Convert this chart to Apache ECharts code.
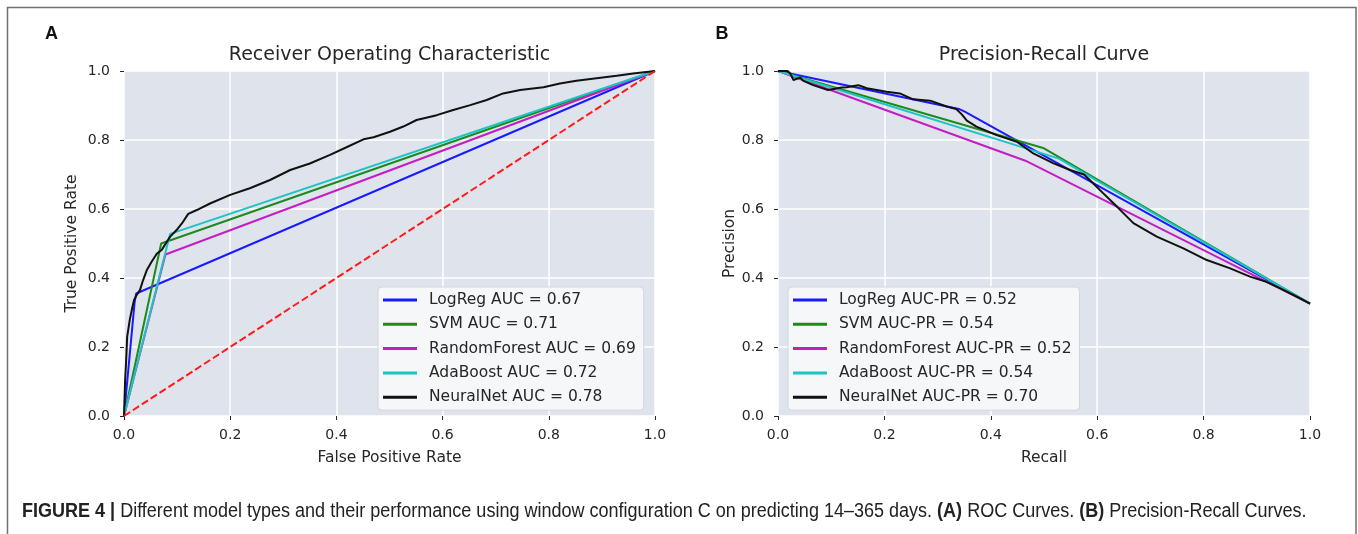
<!DOCTYPE html>
<html>
<head>
<meta charset="utf-8">
<script src="https://cdn.jsdelivr.net/npm/echarts@6/dist/echarts.min.js"></script>
<style>
html,body{margin:0;padding:0;background:#fff;}
#chart{width:1358px;height:534px;}
</style>
</head>
<body>
<div id="chart"></div>
<script>
// ---------- data ----------
const tickValues = [0, 0.2, 0.4, 0.6, 0.8, 1.0];

const rocNames = ['LogReg AUC = 0.67', 'SVM AUC = 0.71', 'RandomForest AUC = 0.69', 'AdaBoost AUC = 0.72', 'NeuralNet AUC = 0.78'];
const prNames = ['LogReg AUC-PR = 0.52', 'SVM AUC-PR = 0.54', 'RandomForest AUC-PR = 0.52', 'AdaBoost AUC-PR = 0.54', 'NeuralNet AUC-PR = 0.70'];
const modelColors = ['#1a1aff', '#1c8a1c', '#c21ec2', '#1ec4c4', '#111111'];

const rocLogReg = [[0, 0], [0.02, 0.33], [0.023, 0.355], [1, 1]];
const rocSVM = [[0, 0], [0.07, 0.50], [1, 1]];
const rocRF = [[0, 0], [0.078, 0.468], [1, 1]];
const rocAda = [[0, 0], [0.087, 0.528], [1, 1]];
const rocNN = [[0, 0], [0.002, 0.10], [0.004, 0.16], [0.006, 0.23], [0.011, 0.28], [0.016, 0.317], [0.019, 0.336],
  [0.024, 0.351], [0.03, 0.365], [0.036, 0.394], [0.043, 0.423], [0.052, 0.447], [0.062, 0.471], [0.071, 0.481],
  [0.077, 0.496], [0.087, 0.52], [0.099, 0.539], [0.109, 0.558], [0.121, 0.586], [0.137, 0.597], [0.162, 0.616],
  [0.2, 0.641], [0.237, 0.66], [0.275, 0.684], [0.313, 0.713], [0.35, 0.732], [0.388, 0.757], [0.419, 0.779],
  [0.451, 0.802], [0.47, 0.808], [0.501, 0.824], [0.526, 0.839], [0.551, 0.858], [0.589, 0.872], [0.62, 0.887],
  [0.652, 0.901], [0.683, 0.916], [0.714, 0.935], [0.746, 0.945], [0.79, 0.953], [0.821, 0.964], [0.852, 0.972],
  [0.89, 0.979], [0.928, 0.986], [0.959, 0.993], [1, 1]];
const rocChance = [[0, 0], [1, 1]];

const prLogReg = [[0, 1], [0.34, 0.89], [0.351, 0.882], [1, 0.326]];
const prSVM = [[0, 1], [0.5, 0.776], [1, 0.326]];
const prRF = [[0, 1], [0.465, 0.74], [1, 0.326]];
const prAda = [[0, 1], [0.528, 0.746], [1, 0.326]];
const prNN = [[0, 1], [0.018, 1.0], [0.023, 0.993], [0.029, 0.974], [0.042, 0.981], [0.047, 0.972], [0.066, 0.959],
  [0.094, 0.945], [0.12, 0.952], [0.129, 0.953], [0.151, 0.959], [0.167, 0.95], [0.204, 0.94], [0.229, 0.935],
  [0.254, 0.918], [0.286, 0.914], [0.317, 0.897], [0.335, 0.89], [0.345, 0.875], [0.355, 0.856], [0.373, 0.839],
  [0.411, 0.814], [0.449, 0.795], [0.48, 0.761], [0.517, 0.733], [0.549, 0.713], [0.575, 0.70], [0.586, 0.684],
  [0.611, 0.646], [0.637, 0.607], [0.668, 0.559], [0.712, 0.52], [0.762, 0.486], [0.806, 0.452], [0.85, 0.428],
  [0.887, 0.404], [0.918, 0.389], [0.944, 0.37], [0.97, 0.35], [1, 0.326]];

const rocData = [rocLogReg, rocSVM, rocRF, rocAda, rocNN];
const prData = [prLogReg, prSVM, prRF, prAda, prNN];

const titleROC = 'Receiver Operating Characteristic';
const titlePR = 'Precision-Recall Curve';
const captionText = '{b|FIGURE 4 |} Different model types and their performance using window configuration C on predicting 14\u2013365 days. {b|(A)} ROC Curves. {b|(B)} Precision-Recall Curves.';

// ---------- chart ----------
const FONT = '"DejaVu Sans", sans-serif';
const CAPFONT = '"Liberation Sans", Arial, sans-serif';
const TXT = '#262626';

function valueAxis(gridIndex, name, isY, nameGap) {
  return {
    type: 'value', gridIndex: gridIndex, min: 0, max: 1, interval: 0.2,
    name: name, nameLocation: 'middle', nameGap: nameGap,
    nameTextStyle: { fontFamily: FONT, fontSize: 15.5, color: TXT },
    axisLine: { show: false },
    axisTick: { show: true, length: 4, lineStyle: { color: TXT, width: 1 } },
    axisLabel: { fontFamily: FONT, fontSize: 14, color: TXT, margin: isY ? 14 : 12,
      formatter: v => v.toFixed(1) },
    splitLine: { show: true, lineStyle: { color: '#ffffff', width: 1.5 } }
  };
}

function legendCfg(names, left) {
  return {
    data: names, orient: 'vertical', left: left, top: 287,
    backgroundColor: '#f6f7f9', borderColor: '#d2d6dc', borderWidth: 1, borderRadius: 4,
    padding: [4, 8, 4, 5], itemGap: 6.3, itemWidth: 34, itemHeight: 3, icon: 'rect',
    textStyle: { fontFamily: FONT, fontSize: 15.5, color: TXT, lineHeight: 18, padding: [0, 0, 0, 7] },
    selectedMode: false
  };
}

const series = [];
rocData.forEach((d, i) => series.push({
  name: rocNames[i], type: 'line', xAxisIndex: 0, yAxisIndex: 0, data: d,
  symbol: 'none', color: modelColors[i], lineStyle: { width: 2, color: modelColors[i] }, silent: true
}));
series.push({
  name: 'chance', type: 'line', xAxisIndex: 0, yAxisIndex: 0, data: rocChance,
  symbol: 'none', color: '#ff1a1a', lineStyle: { width: 2, color: '#ff1a1a', type: [7.4, 3.2] }, silent: true
});
prData.forEach((d, i) => series.push({
  name: prNames[i], type: 'line', xAxisIndex: 1, yAxisIndex: 1, data: d,
  symbol: 'none', color: modelColors[i], lineStyle: { width: 2, color: modelColors[i] }, silent: true
}));

const chart = echarts.init(document.getElementById('chart'), null, { renderer: 'canvas' });
chart.setOption({
  animation: false,
  backgroundColor: '#ffffff',
  grid: [
    { left: 124, top: 71, width: 531, height: 345, show: true, backgroundColor: '#dfe3ec', borderWidth: 0 },
    { left: 778, top: 71, width: 532, height: 345, show: true, backgroundColor: '#dfe3ec', borderWidth: 0 }
  ],
  xAxis: [valueAxis(0, 'False Positive Rate', false, 34), valueAxis(1, 'Recall', false, 34)],
  yAxis: [valueAxis(0, 'True Positive Rate', true, 44), valueAxis(1, 'Precision', true, 40)],
  legend: [legendCfg(rocNames, 378), legendCfg(prNames, 788)],
  graphic: [
    { type: 'rect', silent: true, shape: { x: 7.5, y: 7.5, width: 1348.5, height: 600 },
      style: { fill: 'none', stroke: '#707070', lineWidth: 1.5 } },
    { type: 'text', silent: true, x: 51.5, y: 34,
      style: { text: 'A', fontFamily: CAPFONT, fontSize: 18, fontWeight: 'bold', fill: '#111',
        textAlign: 'center', textVerticalAlign: 'middle' } },
    { type: 'text', silent: true, x: 722, y: 34,
      style: { text: 'B', fontFamily: CAPFONT, fontSize: 18, fontWeight: 'bold', fill: '#111',
        textAlign: 'center', textVerticalAlign: 'middle' } },
    { type: 'text', silent: true, x: 389.5, y: 55,
      style: { text: titleROC, fontFamily: FONT, fontSize: 19, fill: TXT, textAlign: 'center', textVerticalAlign: 'middle' } },
    { type: 'text', silent: true, x: 1044, y: 55,
      style: { text: titlePR, fontFamily: FONT, fontSize: 19, fill: TXT, textAlign: 'center', textVerticalAlign: 'middle' } },
    { type: 'text', silent: true, x: 22, y: 512, scaleX: 0.924, scaleY: 1,
      style: { text: captionText, fontFamily: CAPFONT, fontSize: 19.5, fill: '#222',
        textAlign: 'left', textVerticalAlign: 'middle',
        rich: { b: { fontFamily: CAPFONT, fontSize: 19.5, fontWeight: 'bold', fill: '#222' } } } }
  ],
  series: series
});
</script>
</body>
</html>
